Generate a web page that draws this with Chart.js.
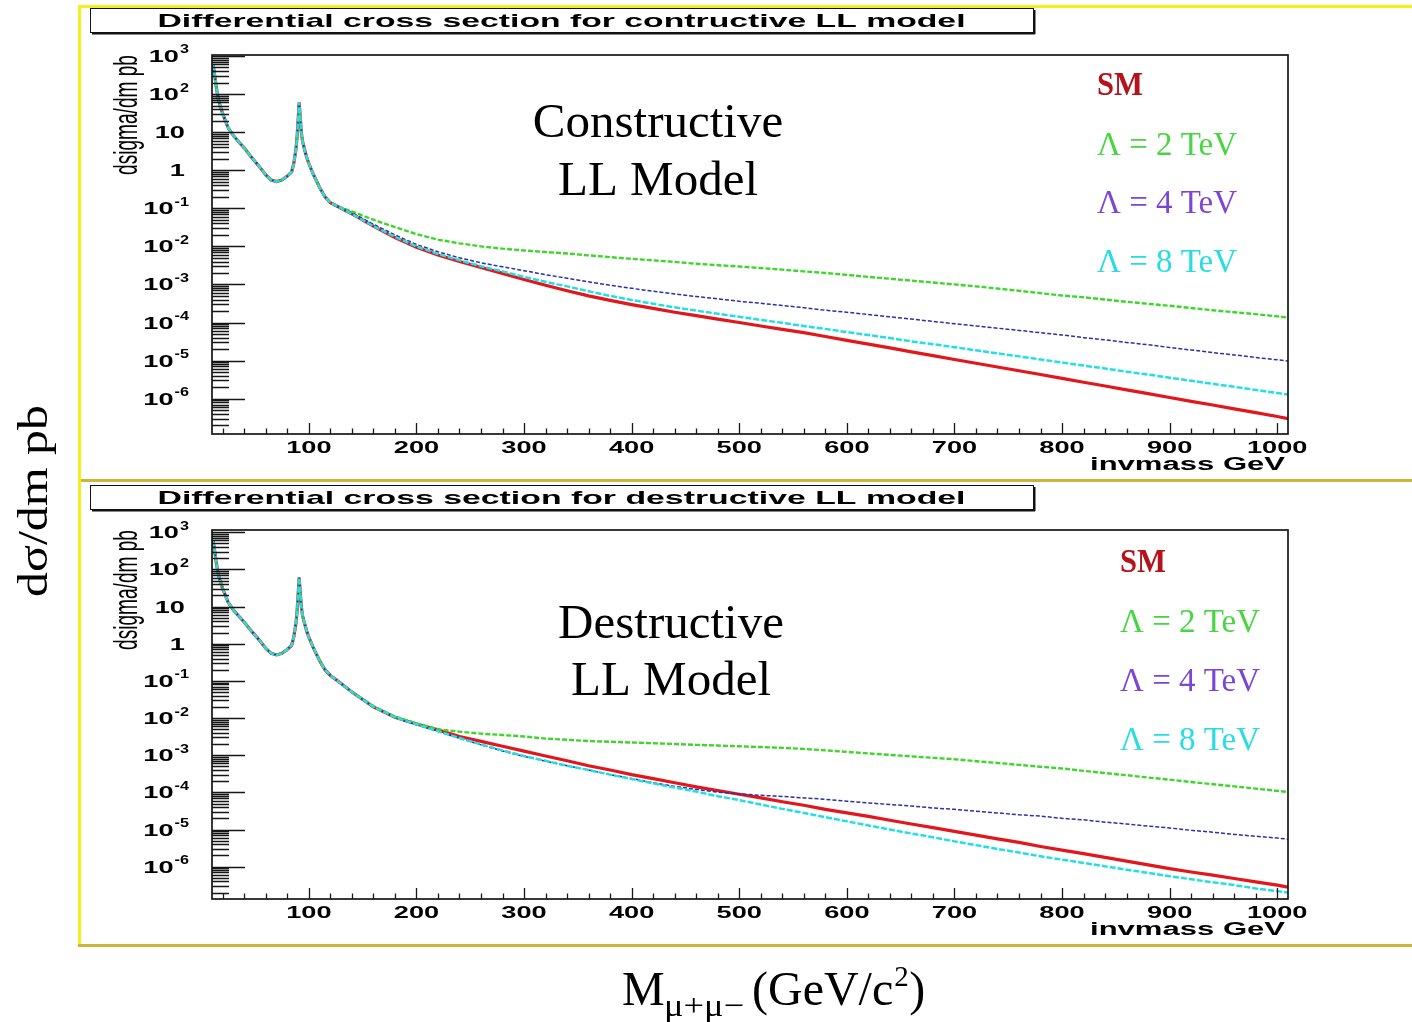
<!DOCTYPE html>
<html>
<head>
<meta charset="utf-8">
<title>Differential cross section, LL contact interaction</title>
<script src="https://cdn.jsdelivr.net/npm/chart.js@4.4.0/dist/chart.umd.min.js"></script>
<style>
  body { margin: 0; background: #fff; }
  #page { position: relative; width: 1412px; height: 1022px; overflow: hidden; background: #fff; }
  canvas { position: absolute; }
</style>
</head>
<body>
<div id="page">
  <canvas id="decor" width="1412" height="1022" style="left:0;top:0"></canvas>
  <canvas id="constructive" width="1332" height="470" style="left:80px;top:8px"></canvas>
  <canvas id="destructive" width="1332" height="461" style="left:80px;top:483px"></canvas>
</div>
<script>
// invariant mass bins (GeV) below 130 GeV, where all four curves coincide
const lowMassX = [11, 12, 14, 16, 18, 20, 25, 30, 35, 40, 45, 50, 55, 60, 65, 70, 75, 80,
  84, 86, 88, 89, 90, 91, 92, 93, 94, 96, 98, 100, 104, 110, 115, 120];
const lowMassXsec = [600, 400, 150, 70, 45, 30, 13, 8, 5.5, 3.8, 2.5, 1.7, 1.15, 0.75, 0.55, 0.5, 0.55, 0.7,
  0.9, 1.5, 3.5, 7, 20, 60, 25, 10, 6, 3.5, 2.2, 1.5, 0.8, 0.35, 0.2, 0.14];

// high mass tail
const tailX = [130, 140, 160, 180, 200, 220, 240, 260, 280, 300,
  320, 340, 360, 380, 400, 420, 440, 460, 480, 500,
  520, 540, 560, 580, 600, 620, 640, 660, 680, 700,
  720, 740, 760, 780, 800, 820, 840, 860, 880, 900,
  920, 940, 960, 980, 1000, 1010];

// constructive LL model (pb/GeV)
const conSM = [1.0e-1, 7.1e-2, 3.4e-2, 1.7e-2, 9.5e-3, 5.9e-3, 4.0e-3, 2.8e-3, 1.95e-3, 1.35e-3,
  9.5e-4, 6.8e-4, 5.0e-4, 3.8e-4, 2.95e-4, 2.35e-4, 1.86e-4, 1.51e-4, 1.23e-4, 1.0e-4,
  8.1e-5, 6.6e-5, 5.4e-5, 4.3e-5, 3.4e-5, 2.7e-5, 2.15e-5, 1.7e-5, 1.35e-5, 1.07e-5,
  8.5e-6, 6.8e-6, 5.4e-6, 4.3e-6, 3.4e-6, 2.7e-6, 2.15e-6, 1.7e-6, 1.35e-6, 1.07e-6,
  8.5e-7, 6.8e-7, 5.4e-7, 4.3e-7, 3.4e-7, 3.0e-7];
const con2TeV = [1.05e-1, 8.3e-2, 5.0e-2, 3.2e-2, 2.1e-2, 1.5e-2, 1.2e-2, 1.0e-2, 8.7e-3, 7.8e-3,
  7.1e-3, 6.5e-3, 5.8e-3, 5.2e-3, 4.7e-3, 4.3e-3, 3.9e-3, 3.5e-3, 3.2e-3, 2.95e-3,
  2.7e-3, 2.45e-3, 2.2e-3, 2.0e-3, 1.78e-3, 1.58e-3, 1.41e-3, 1.26e-3, 1.12e-3, 1.0e-3,
  8.9e-4, 7.8e-4, 6.8e-4, 5.9e-4, 5.1e-4, 4.6e-4, 4.0e-4, 3.5e-4, 3.1e-4, 2.75e-4,
  2.4e-4, 2.1e-4, 1.86e-4, 1.66e-4, 1.45e-4, 1.35e-4];
const con4TeV = [1.0e-1, 7.6e-2, 3.8e-2, 2.0e-2, 1.12e-2, 7.2e-3, 5.0e-3, 3.7e-3, 2.9e-3, 2.3e-3,
  1.8e-3, 1.45e-3, 1.17e-3, 9.5e-4, 7.9e-4, 6.6e-4, 5.6e-4, 4.8e-4, 4.2e-4, 3.6e-4,
  3.2e-4, 2.8e-4, 2.45e-4, 2.1e-4, 1.86e-4, 1.62e-4, 1.41e-4, 1.23e-4, 1.07e-4, 9.3e-5,
  8.1e-5, 7.1e-5, 6.2e-5, 5.4e-5, 4.7e-5, 4.0e-5, 3.5e-5, 3.0e-5, 2.6e-5, 2.2e-5,
  1.9e-5, 1.62e-5, 1.41e-5, 1.2e-5, 1.05e-5, 9.8e-6];
const con8TeV = [1.0e-1, 7.1e-2, 3.4e-2, 1.78e-2, 1.0e-2, 6.3e-3, 4.3e-3, 3.0e-3, 2.2e-3, 1.58e-3,
  1.17e-3, 8.9e-4, 6.6e-4, 5.0e-4, 3.9e-4, 3.1e-4, 2.5e-4, 2.05e-4, 1.7e-4, 1.41e-4,
  1.17e-4, 9.8e-5, 8.1e-5, 6.8e-5, 5.6e-5, 4.7e-5, 3.9e-5, 3.2e-5, 2.7e-5, 2.25e-5,
  1.86e-5, 1.55e-5, 1.29e-5, 1.07e-5, 8.9e-6, 7.4e-6, 6.2e-6, 5.1e-6, 4.3e-6, 3.55e-6,
  2.95e-6, 2.45e-6, 2.05e-6, 1.7e-6, 1.41e-6, 1.29e-6];

// destructive LL model (pb/GeV)
const desSM = [8.5e-2, 5.0e-2, 2.0e-2, 1.05e-2, 6.9e-3, 4.8e-3, 3.2e-3, 2.35e-3, 1.74e-3, 1.29e-3,
  9.5e-4, 7.1e-4, 5.2e-4, 4.0e-4, 3.0e-4, 2.35e-4, 1.82e-4, 1.41e-4, 1.12e-4, 8.9e-5,
  7.1e-5, 5.6e-5, 4.5e-5, 3.5e-5, 2.8e-5, 2.25e-5, 1.78e-5, 1.41e-5, 1.12e-5, 8.9e-6,
  7.1e-6, 5.6e-6, 4.5e-6, 3.5e-6, 2.8e-6, 2.25e-6, 1.78e-6, 1.41e-6, 1.12e-6, 8.9e-7,
  7.2e-7, 5.9e-7, 4.8e-7, 3.9e-7, 3.2e-7, 2.8e-7];
const des2TeV = [8.5e-2, 5.0e-2, 2.1e-2, 1.1e-2, 7.2e-3, 5.0e-3, 4.3e-3, 3.8e-3, 3.5e-3, 3.2e-3,
  2.8e-3, 2.6e-3, 2.4e-3, 2.3e-3, 2.2e-3, 2.1e-3, 2.0e-3, 1.9e-3, 1.82e-3, 1.74e-3,
  1.66e-3, 1.58e-3, 1.48e-3, 1.35e-3, 1.23e-3, 1.12e-3, 1.02e-3, 9.3e-4, 8.5e-4, 7.8e-4,
  6.9e-4, 6.2e-4, 5.5e-4, 4.9e-4, 4.4e-4, 3.8e-4, 3.3e-4, 2.9e-4, 2.5e-4, 2.2e-4,
  1.9e-4, 1.66e-4, 1.45e-4, 1.26e-4, 1.1e-4, 1.02e-4];
const des4TeV = [8.5e-2, 5.0e-2, 2.0e-2, 1.02e-2, 6.6e-3, 4.4e-3, 2.85e-3, 1.9e-3, 1.3e-3, 9.3e-4,
  6.9e-4, 5.2e-4, 4.0e-4, 3.0e-4, 2.35e-4, 1.82e-4, 1.45e-4, 1.2e-4, 1.02e-4, 9.1e-5,
  8.3e-5, 7.8e-5, 7.1e-5, 6.5e-5, 5.8e-5, 5.2e-5, 4.7e-5, 4.3e-5, 3.8e-5, 3.5e-5,
  3.1e-5, 2.8e-5, 2.5e-5, 2.3e-5, 2.0e-5, 1.82e-5, 1.58e-5, 1.41e-5, 1.23e-5, 1.1e-5,
  9.5e-6, 8.5e-6, 7.4e-6, 6.6e-6, 5.9e-6, 5.5e-6];
const des8TeV = [8.5e-2, 5.0e-2, 2.0e-2, 1.05e-2, 6.8e-3, 4.4e-3, 2.9e-3, 1.95e-3, 1.35e-3, 9.5e-4,
  7.1e-4, 5.2e-4, 4.0e-4, 3.0e-4, 2.3e-4, 1.74e-4, 1.35e-4, 1.05e-4, 7.9e-5, 6.2e-5,
  4.7e-5, 3.6e-5, 2.8e-5, 2.15e-5, 1.66e-5, 1.29e-5, 1.0e-5, 7.8e-6, 6.2e-6, 4.8e-6,
  3.8e-6, 3.0e-6, 2.4e-6, 1.9e-6, 1.55e-6, 1.26e-6, 1.02e-6, 8.3e-7, 6.8e-7, 5.5e-7,
  4.6e-7, 3.8e-7, 3.2e-7, 2.6e-7, 2.2e-7, 2.0e-7];

// axis labels
const xTickLabels = [100, 200, 300, 400, 500, 600, 700, 800, 900, 1000];
const yDecades = [-6, -5, -4, -3, -2, -1, 0, 1, 2, 3];
const seriesLabels = ['SM', 'Λ = 2 TeV', 'Λ = 4 TeV', 'Λ = 8 TeV'];

// line and text colours, one per series
const seriesStyle = [
  { line: '#e3161b', text: '#b5121b', width: 3.2, dash: [], order: 3 },
  { line: '#3fd62c', text: '#47d640', width: 2.4, dash: [5, 2], order: 2 },
  { line: '#2d2fa6', text: '#7b45d6', width: 1.5, dash: [4, 2], order: 1 },
  { line: '#22dfe6', text: '#26dde4', width: 2.5, dash: [6, 2], order: 0 }
];

const ROOT_FONT = '"Liberation Sans", Arial, sans-serif';
const SERIF = '"Liberation Serif", "Times New Roman", serif';

// draws text with an optional horizontal stretch (or a target width)
function stretchText(ctx, str, x, y, o) {
  ctx.save();
  ctx.font = o.font;
  ctx.fillStyle = o.color || '#000';
  ctx.textBaseline = 'alphabetic';
  const w = ctx.measureText(str).width;
  const sx = o.width ? o.width / w : (o.sx || 1);
  ctx.translate(x, y);
  if (o.rotate) ctx.rotate(o.rotate);
  ctx.scale(sx, o.sy || 1);
  let dx = 0;
  if (o.align === 'center') dx = -w / 2;
  else if (o.align === 'right') dx = -w;
  ctx.fillText(str, dx, 0);
  ctx.restore();
  return w * sx;
}

function measure(ctx, str, font) {
  ctx.save();
  ctx.font = font;
  const w = ctx.measureText(str).width;
  ctx.restore();
  return w;
}

// frame, inward ticks, labels and annotations in the style of a ROOT canvas
const rootFrame = {
  id: 'rootFrame',
  afterDraw(chart, args, o) {
    const { ctx, chartArea: a, scales: { x, y } } = chart;
    ctx.save();

    // title pave with shadow
    const bx = 10, bw = 943, bh = 24, by = o.titleTop;
    ctx.fillStyle = '#fff';
    ctx.fillRect(bx, by, bw, bh);
    ctx.strokeStyle = '#111';
    ctx.lineWidth = 1;
    ctx.strokeRect(bx + 0.5, by + 0.5, bw, bh);
    ctx.fillStyle = '#111';
    ctx.fillRect(bx + 2, by + bh, bw, 2.5);
    ctx.fillRect(bx + bw, by + 2, 2.5, bh);
    stretchText(ctx, o.title, bx + bw / 2, by + 18.5,
      { font: 'bold 19px ' + ROOT_FONT, align: 'center', width: 808 });

    // frame
    ctx.strokeStyle = '#161616';
    ctx.lineWidth = 1.7;
    ctx.strokeRect(a.left, a.top, a.right - a.left, a.bottom - a.top);

    // x ticks every 20 GeV, longer at each 100
    ctx.lineWidth = 1.3;
    ctx.beginPath();
    for (let m = 20; m <= 1000; m += 20) {
      const px = Math.round(x.getPixelForValue(m)) + 0.5;
      ctx.moveTo(px, a.bottom);
      ctx.lineTo(px, a.bottom - (m % 100 === 0 ? 11 : 5.5));
    }
    // y ticks: decades and 2..9 in between
    for (let n = -7; n <= 3; n++) {
      for (let k = 1; k <= 9; k++) {
        const v = k * Math.pow(10, n);
        if (v < y.min || v > y.max) continue;
        const py = Math.round(y.getPixelForValue(v)) + 0.5;
        ctx.moveTo(a.left, py);
        ctx.lineTo(a.left + (k === 1 ? 33 : 17), py);
      }
    }
    ctx.stroke();

    // x tick labels
    const tickFont = 'bold 17px ' + ROOT_FONT;
    xTickLabels.forEach(m => {
      stretchText(ctx, String(m), x.getPixelForValue(m), a.bottom + 18.5,
        { font: tickFont, align: 'center', sx: 1.6 });
    });
    stretchText(ctx, 'invmass GeV', a.right - 3, a.bottom + 35.5,
      { font: 'bold 18px ' + ROOT_FONT, align: 'right', width: 195 });

    // y tick labels 10^n
    const supFont = 'bold 12px ' + ROOT_FONT;
    yDecades.forEach(n => {
      const py = y.getPixelForValue(Math.pow(10, n));
      if (n === 0 || n === 1) {
        stretchText(ctx, n === 0 ? '1' : '10', a.left - 27, py + 6,
          { font: tickFont, align: 'right', sx: 1.6 });
        return;
      }
      const sup = String(n);
      const supW = measure(ctx, sup, supFont) * 1.35;
      const baseW = measure(ctx, '10', tickFont) * 1.6;
      const right = a.left - 23;
      stretchText(ctx, '10', right - supW - baseW - 1, py + 6, { font: tickFont, sx: 1.6 });
      stretchText(ctx, sup, right - supW, py - 2.5, { font: supFont, sx: 1.35 });
    });

    // y axis title, along the top of the axis
    stretchText(ctx, 'dsigma/dm pb', 57, a.top + 60,
      { font: '19px ' + ROOT_FONT, align: 'center', width: 120, sy: 1.7, rotate: -Math.PI / 2 });

    // model name
    o.model.forEach((line, i) => {
      stretchText(ctx, line, o.modelX, o.modelY[i], { font: '49px ' + SERIF, align: 'center' });
    });

    // legend as coloured labels
    seriesLabels.forEach((lab, i) => {
      const first = i === 0;
      stretchText(ctx, lab, o.legendX, o.legendY[i], {
        font: (first ? 'bold 33px ' : '34px ') + SERIF,
        color: seriesStyle[i].text,
        width: first ? 46 : 140
      });
    });
    ctx.restore();
  }
};

function curve(tail) {
  return lowMassX.map((m, i) => ({ x: m, y: lowMassXsec[i] }))
    .concat(tailX.map((m, i) => ({ x: m, y: tail[i] })));
}

function makePanel(id, series, o) {
  return new Chart(document.getElementById(id), {
    type: 'line',
    data: {
      datasets: series.map((s, i) => ({
        label: seriesLabels[i],
        data: curve(s),
        borderColor: seriesStyle[i].line,
        borderWidth: seriesStyle[i].width,
        borderDash: seriesStyle[i].dash,
        order: seriesStyle[i].order,
        pointRadius: 0,
        tension: 0,
        fill: false
      }))
    },
    options: {
      responsive: false,
      animation: false,
      events: [],
      layout: { padding: { left: 132, top: 47, right: 124, bottom: o.padBottom } },
      scales: {
        x: { type: 'linear', min: 10, max: 1010, display: false },
        y: { type: 'logarithmic', min: o.yMin, max: o.yMax, display: false }
      },
      plugins: {
        legend: { display: false },
        tooltip: { enabled: false },
        rootFrame: o
      }
    },
    plugins: [rootFrame]
  });
}

makePanel('constructive', [conSM, con2TeV, con4TeV, con8TeV], {
  padBottom: 44, yMin: 1.18e-7, yMax: 1.06e3, titleTop: 0,
  title: 'Differential cross section for contructive LL model',
  model: ['Constructive', 'LL Model'], modelX: 578, modelY: [129, 187],
  legendX: 1017, legendY: [87, 147, 205, 264]
});

makePanel('destructive', [desSM, des2TeV, des4TeV, des8TeV], {
  padBottom: 45, yMin: 1.35e-7, yMax: 1.15e3, titleTop: 2,
  title: 'Differential cross section for destructive LL model',
  model: ['Destructive', 'LL Model'], modelX: 591, modelY: [155, 212],
  legendX: 1040, legendY: [89, 149, 208, 267]
});

// page frames and the overall axis titles
(function decor() {
  const ctx = document.getElementById('decor').getContext('2d');
  ctx.fillStyle = '#f4f01e';
  ctx.fillRect(78, 5, 1334, 3);
  ctx.fillRect(78, 5, 3, 942);
  ctx.fillStyle = '#c9b73c';
  ctx.fillRect(81, 479, 1331, 3);
  ctx.fillRect(78, 944, 1334, 3);

  stretchText(ctx, 'dσ/dm pb', 47, 501,
    { font: '42px ' + SERIF, align: 'center', width: 192, rotate: -Math.PI / 2 });

  const big = '48px ' + SERIF;
  stretchText(ctx, 'M', 622, 1005, { font: big });
  stretchText(ctx, 'μ+μ−', 664, 1016, { font: '32px ' + SERIF, width: 80 });
  const w = stretchText(ctx, '(GeV/c', 752, 1005, { font: big });
  stretchText(ctx, '2', 752 + w + 1, 986, { font: '29px ' + SERIF });
  stretchText(ctx, ')', 752 + w + 16, 1005, { font: big });
})();
</script>
</body>
</html>
